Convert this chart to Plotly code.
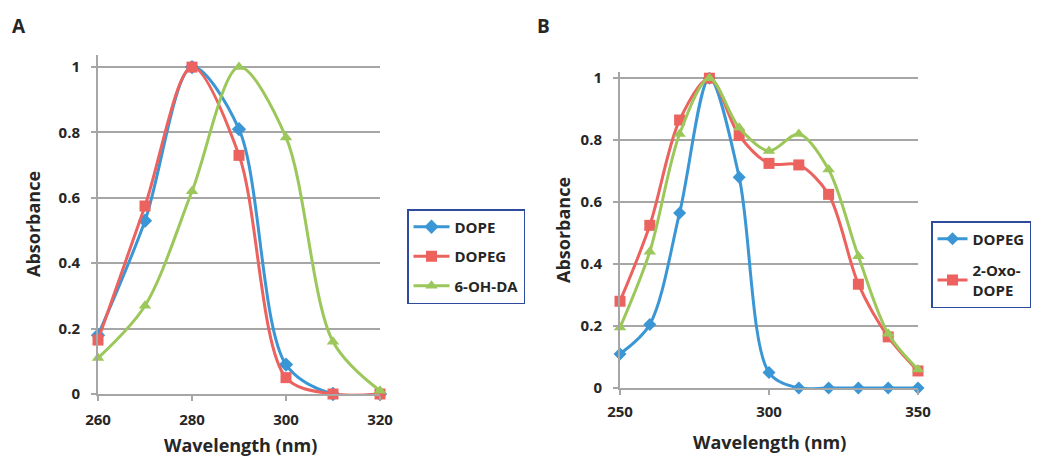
import plotly.graph_objects as go

# Panel A data
wl_a = [260, 270, 280, 290, 300, 310, 320]
dope_a = [0.18, 0.53, 1.0, 0.81, 0.09, 0.0, 0.0]
dopeg_a = [0.165, 0.575, 1.0, 0.73, 0.05, 0.0, 0.0]
ohda_a = [0.11, 0.27, 0.62, 1.0, 0.785, 0.16, 0.01]

# Panel B data
wl_b = [250, 260, 270, 280, 290, 300, 310, 320, 330, 340, 350]
dopeg_b = [0.11, 0.205, 0.565, 1.0, 0.68, 0.05, 0.0, 0.0, 0.0, 0.0, 0.0]
oxo_b = [0.28, 0.525, 0.865, 1.0, 0.815, 0.725, 0.72, 0.625, 0.335, 0.165, 0.055]
green_b = [0.195, 0.44, 0.82, 1.0, 0.84, 0.765, 0.82, 0.705, 0.425, 0.175, 0.06]

xticks_a = [260, 280, 300, 320]
xticks_b = [250, 300, 350]
yticks = [0, 0.2, 0.4, 0.6, 0.8, 1]

BLUE = "#3A96D4"
RED = "#EB625E"
GREEN = "#9CC75B"
FONT = "Open Sans"
TXT = "#262626"
W, H = 1054, 457

fig = go.Figure()

def add(x, y, name, color, symbol, size, xa, ya, legend, group, show=True):
    fig.add_trace(go.Scatter(
        x=x, y=y, name=name, mode="lines+markers",
        line=dict(color=color, width=3, shape="spline", smoothing=0.9),
        marker=dict(color=color, symbol=symbol, size=size),
        xaxis=xa, yaxis=ya, legend=legend, legendgroup=group,
        showlegend=show, cliponaxis=False))

add(wl_a, dope_a, "DOPE", BLUE, "diamond", 11, "x", "y", "legend", "a1")
add(wl_a, dopeg_a, "DOPEG", RED, "square", 11, "x", "y", "legend", "a2")
add(wl_a, ohda_a, "6-OH-DA", GREEN, "triangle-up", 11, "x", "y", "legend", "a3")

add(wl_b, dopeg_b, "DOPEG", BLUE, "diamond", 10, "x2", "y2", "legend2", "b1")
add(wl_b, oxo_b, "2-Oxo-<br>DOPE", RED, "square", 11, "x2", "y2", "legend2", "b2")
add(wl_b, green_b, "", GREEN, "triangle-up", 11, "x2", "y2", "legend2", "b3", show=False)

def px_x(p):
    return p / W

def px_y(p):
    return (H - p) / H

axis_common = dict(
    showline=True, linecolor="#A6A6A6", linewidth=2,
    ticks="outside", tickcolor="#A6A6A6", ticklen=5, tickwidth=2,
    tickfont=dict(family=FONT, size=15, color=TXT, weight="bold"),
    zeroline=False, automargin=False,
)

leg_font = dict(family=FONT, size=15, color=TXT, weight="bold")

fig.update_layout(
    width=W, height=H,
    margin=dict(l=0, r=0, t=0, b=0),
    paper_bgcolor="white", plot_bgcolor="white",
    font=dict(family=FONT, color=TXT),
    xaxis=dict(domain=[px_x(98), px_x(380)], range=[260, 320], tickvals=xticks_a,
               showgrid=False, anchor="y", ticklabelstandoff=6, **axis_common),
    yaxis=dict(domain=[px_y(394), px_y(55)], range=[0, 1.037], tickvals=yticks,
               showgrid=True, gridcolor="#A6A6A6", gridwidth=2, anchor="x",
               ticklabelstandoff=8, **axis_common),
    xaxis2=dict(domain=[px_x(620), px_x(918)], range=[250, 350], tickvals=xticks_b,
                showgrid=False, anchor="y2", ticklabelstandoff=4, **axis_common),
    yaxis2=dict(domain=[px_y(388), px_y(72)], range=[0, 1.02], tickvals=yticks,
                showgrid=True, gridcolor="#A6A6A6", gridwidth=2, anchor="x2",
                ticklabelstandoff=8, **axis_common),
    legend=dict(x=px_x(407), y=px_y(209), xanchor="left", yanchor="top",
                bordercolor="#2E4B9E", borderwidth=1.5, bgcolor="white",
                font=leg_font, tracegroupgap=7, itemwidth=36,
                traceorder="grouped"),
    legend2=dict(x=px_x(931), y=px_y(221), xanchor="left", yanchor="top",
                 bordercolor="#2E4B9E", borderwidth=1.5, bgcolor="white",
                 font=leg_font, itemwidth=30, tracegroupgap=9,
                 traceorder="grouped"),
    showlegend=True,
)

ann = [
    dict(text="<b>A</b>", x=px_x(19), y=px_y(26), size=19),
    dict(text="<b>B</b>", x=px_x(543), y=px_y(26), size=19),
    dict(text="<b>Wavelength (nm)</b>", x=px_x(240), y=px_y(445), size=18),
    dict(text="<b>Wavelength (nm)</b>", x=px_x(769), y=px_y(442), size=18),
    dict(text="<b>Absorbance</b>", x=px_x(33), y=px_y(224), size=18, angle=-90),
    dict(text="<b>Absorbance</b>", x=px_x(563), y=px_y(230), size=18, angle=-90),
]
for a in ann:
    fig.add_annotation(text=a["text"], x=a["x"], y=a["y"], xref="paper", yref="paper",
                       xanchor="center", yanchor="middle", showarrow=False,
                       textangle=a.get("angle", 0),
                       font=dict(family=FONT, size=a.get("size", 16), color=TXT))

fig.write_html(
    "out.html",
    config={"displayModeBar": False},
    post_script="document.body.style.margin='0px';document.body.style.overflow='hidden';",
)
